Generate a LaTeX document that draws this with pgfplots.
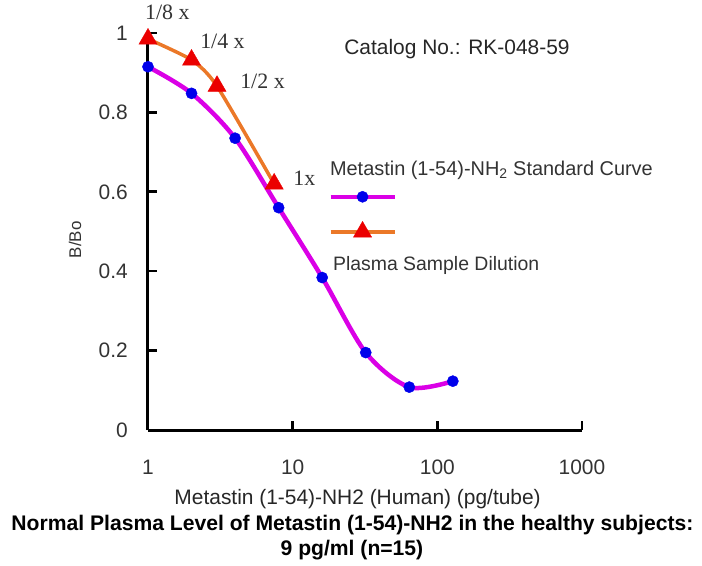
\documentclass[border=0pt]{standalone}
\usepackage{fontspec}
\setmainfont{Liberation Sans}
\newfontfamily\tnr{Liberation Serif}
\usepackage{pgfplots}
\pgfplotsset{compat=1.18}

\definecolor{stdline}{RGB}{218,0,230}
\definecolor{stdmark}{RGB}{0,0,235}
\definecolor{dilline}{RGB}{235,120,40}
\definecolor{dilmark}{RGB}{235,0,0}

\newcommand\fs[1]{\fontsize{#1}{#1}\selectfont}

\begin{document}
\begin{tikzpicture}
\useasboundingbox (-148bp,-136bp) rectangle (554bp,430bp);
\begin{axis}[
  at={(0,0)}, anchor=south west,
  scale only axis, width=434bp, height=397bp,
  xmode=log, xmin=1, xmax=1000, ymin=0, ymax=1,
  clip=false,
  axis x line*=bottom, axis y line*=left,
  axis line style={line width=3bp, black},
  tick style={line width=2.6bp, black},
  major tick length=9bp, tick align=inside,
  xminorticks=false,
  xtick={1,10,100,1000}, xticklabels={1,10,100,1000},
  ytick={0,0.2,0.4,0.6,0.8,1},
  yticklabel style={/pgf/number format/fixed, /pgf/number format/precision=1},
  /pgf/number format/assume math mode=true,
  tick label style={font=\fs{21}, text=black!80},
  xticklabel style={inner sep=0pt, yshift=-30bp},
  yticklabel style={inner sep=0pt, xshift=-20bp},
  xlabel={Metastin (1-54)-NH2 (Human) (pg/tube)},
  every axis x label/.style={at={(axis description cs:0.483,0)}, anchor=base,
    yshift=-74.5bp, inner sep=0pt, font=\fs{21}, text=black!85},
  ylabel={B/Bo},
  every axis y label/.style={at={(axis description cs:-0.168,0.479)}, rotate=90,
    anchor=center, inner sep=0pt, font=\fs{17}, text=black!80},
  legend image code/.code={\draw[mark repeat=2,mark phase=2,#1]
    plot coordinates {(0bp,0bp) (32bp,0bp) (64bp,0bp)};},
  legend style={draw=none, fill=none, at={(0.415,0.602)}, anchor=north west,
    inner sep=0pt, row sep=19bp, column sep=0pt, nodes={inner sep=0pt}},
]
% standard curve
\addplot[stdline, line width=4.5bp, smooth, mark=*, mark size=5.6bp,
  mark options={fill=stdmark, draw=stdmark, line width=0.4bp}]
  coordinates {(1,0.915) (2,0.848) (4,0.735) (8,0.560) (16,0.384) (32,0.195) (64,0.108) (128,0.123)};
\addlegendentry{\mbox{}}
% plasma dilution
\addplot[dilline, line width=3.5bp, smooth, tension=0.4, mark=triangle*, mark size=10.5bp,
  mark options={fill=dilmark, draw=dilmark, line width=0.4bp}]
  coordinates {(1,0.985) (2,0.932) (3,0.866) (7.45,0.62)};
\addlegendentry{\mbox{}}

\node[anchor=base west, inner sep=0pt, font=\tnr\fs{22}, text=black!80] at (axis cs:0.953,1.033) {1/8 x};
\node[anchor=base west, inner sep=0pt, font=\tnr\fs{22}, text=black!80] at (axis cs:2.29,0.960) {1/4 x};
\node[anchor=base west, inner sep=0pt, font=\tnr\fs{22}, text=black!80] at (axis cs:4.33,0.859) {1/2 x};
\node[anchor=base west, inner sep=0pt, font=\tnr\fs{22}, text=black!80] at (axis cs:10.08,0.617) {1x};

\node[anchor=base west, inner sep=0pt, font=\fs{21}, text=black!85] at (rel axis cs:0.452,0.945) {Catalog No.: RK-048-59};
\node[anchor=base west, inner sep=0pt, font=\fs{20}, text=black!80] at (rel axis cs:0.419,0.642) {Metastin (1-54)-NH\textsubscript{2} Standard Curve};
\node[anchor=base west, inner sep=0pt, font=\fs{19.5}, text=black!80] at (rel axis cs:0.426,0.403) {Plasma Sample Dilution};

\node[anchor=base, inner sep=0pt, font=\bfseries\fs{21.2}] at (rel axis cs:0.471,0) [yshift=-100bp] {Normal Plasma Level of Metastin (1-54)-NH2 in the healthy subjects:};
\node[anchor=base, inner sep=0pt, font=\bfseries\fs{21.2}] at (rel axis cs:0.470,0) [yshift=-125bp] {9 pg/ml (n=15)};
\end{axis}
\end{tikzpicture}
\end{document}
